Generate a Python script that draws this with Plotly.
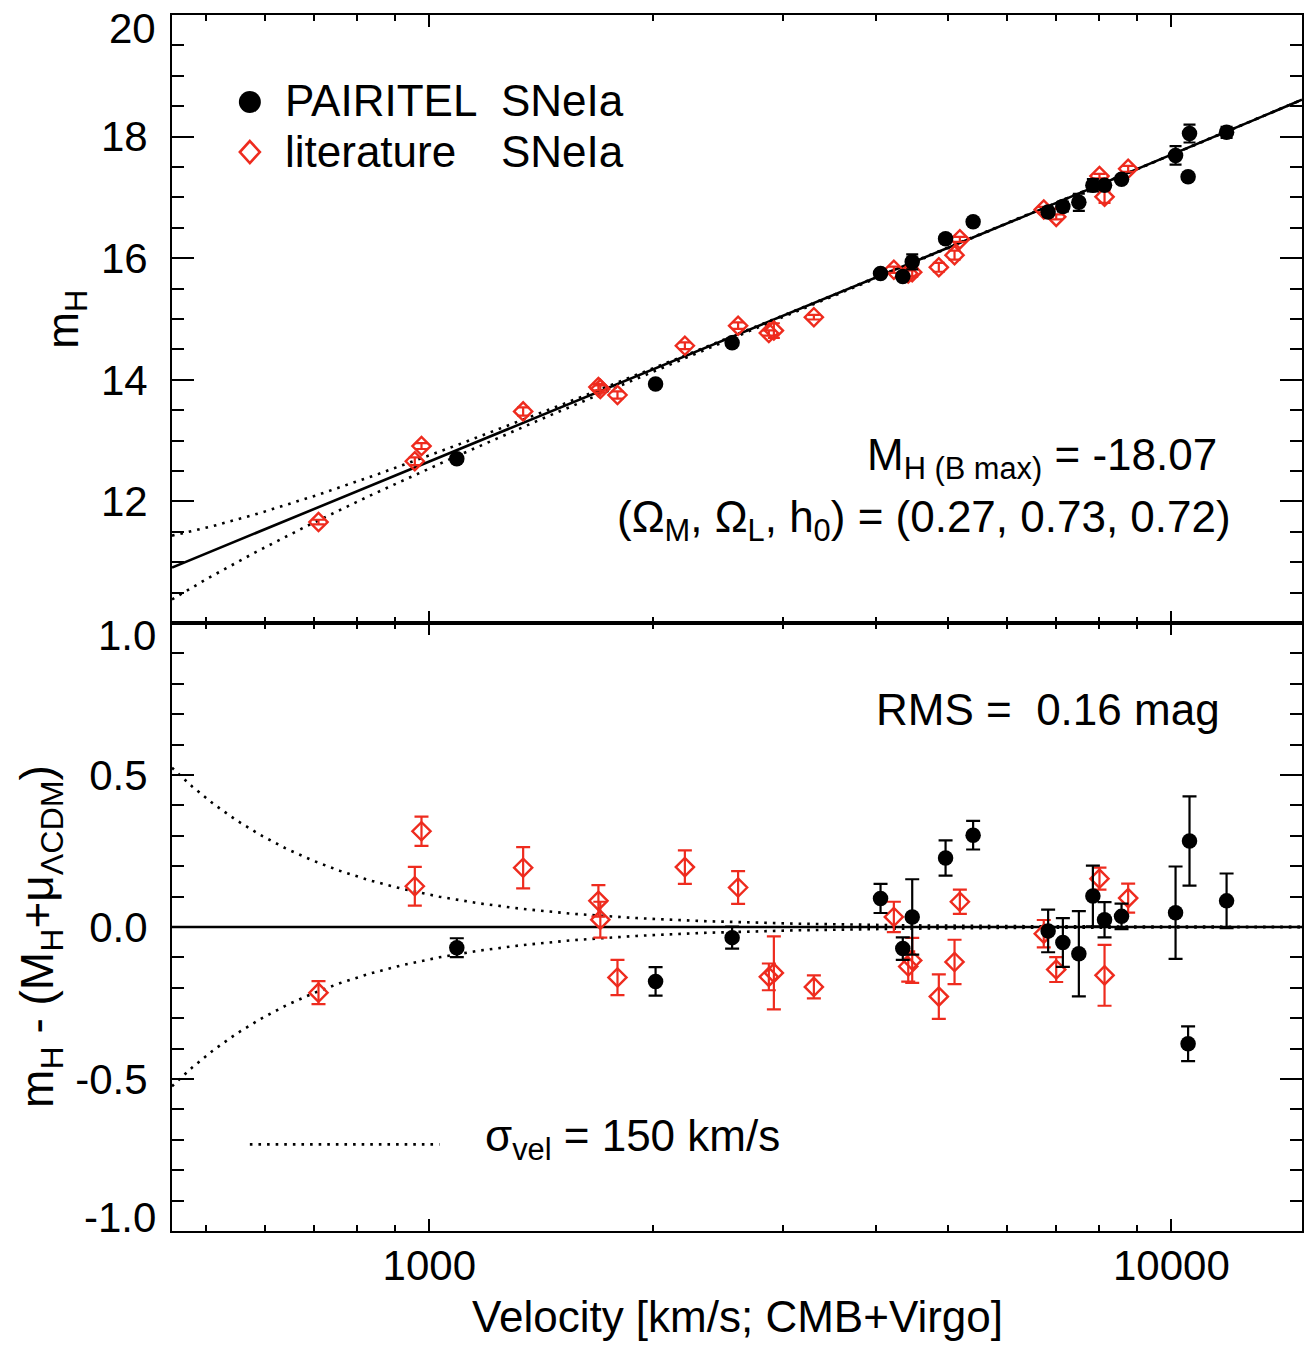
import numpy as np
import plotly.graph_objects as go
from plotly.subplots import make_subplots

# ---- PAIRITEL SNe Ia: CMB+Virgo velocity, peak H mag, Hubble residual, error
pt_vel = [1089, 2018, 2559, 4056, 4346, 4475, 4963, 5406, 6823, 7142, 7505,
          7839, 8128, 8568, 10132, 10580, 10534, 11870]
pt_mag = [12.70, 13.93, 14.61, 15.75, 15.70, 15.94, 16.32, 16.60, 16.76, 16.85,
          16.92, 17.20, 17.20, 17.30, 17.69, 18.05, 17.34, 18.07]
pt_res = [-0.068, -0.179, -0.035, 0.094, -0.071, 0.033, 0.227, 0.302, -0.013,
          -0.051, -0.088, 0.102, 0.024, 0.035, 0.047, 0.283, -0.384, 0.086]
pt_err = [0.031, 0.047, 0.036, 0.048, 0.037, 0.124, 0.058, 0.047, 0.070, 0.080,
          0.140, 0.100, 0.058, 0.042, 0.152, 0.147, 0.057, 0.090]

# ---- literature SNe Ia
lit_vel = [709, 956, 976, 1338, 1690, 1700, 1793, 2210, 2607, 2868, 2913, 3298,
           4227, 4475, 4420, 4860, 5103, 5188, 6731, 6996, 8001, 8128, 8746]
lit_mag = [11.66, 12.66, 12.91, 13.48, 13.88, 13.85, 13.75, 14.56, 14.89, 14.77,
           14.81, 15.03, 15.81, 15.77, 15.75, 15.85, 16.05, 16.31, 16.80, 16.68,
           17.35, 17.01, 17.47]
lit_res = [-0.216, 0.134, 0.315, 0.195, 0.086, 0.024, -0.166, 0.197, 0.130,
           -0.164, -0.151, -0.197, 0.033, -0.110, -0.130, -0.229, -0.115, 0.083,
           -0.022, -0.140, 0.159, -0.159, 0.095]
lit_err = [0.038, 0.064, 0.048, 0.068, 0.052, 0.059, 0.058, 0.055, 0.054, 0.044,
           0.120, 0.038, 0.050, 0.074, 0.050, 0.073, 0.073, 0.040, 0.045, 0.041,
           0.036, 0.100, 0.048]

# ---- model parameters
M_H = -18.07
OMEGA_M, OMEGA_L, H0 = 0.27, 0.73, 72.0
SIGMA_VEL = 150.0
C_KMS = 299792.458
V_RANGE = (450.0, 15000.0)

x_ticks = [1000, 10000]
x_ticklabels = ["1000", "10000"]
x_minor = [500, 600, 700, 800, 900, 2000, 3000, 4000, 5000, 6000, 7000, 8000, 9000]

RED = "#ee2b1e"
FONT = "Liberation Sans, Arial, Helvetica, sans-serif"


def mu_lcdm(v):
    """Distance modulus in flat LCDM for recession velocities v (km/s)."""
    out = []
    for vi in np.atleast_1d(v):
        z = vi / C_KMS
        zz = np.linspace(0.0, z, 400)
        ez = np.sqrt(OMEGA_M * (1 + zz) ** 3 + OMEGA_L)
        dc = C_KMS / H0 * np.trapezoid(1.0 / ez, zz)
        out.append(5 * np.log10((1 + z) * dc) + 25)
    return np.array(out)


v_grid = np.geomspace(V_RANGE[0], V_RANGE[1], 500)
m_model = M_H + mu_lcdm(v_grid)
# magnitude envelope from the peculiar-velocity scatter
envelope = (5.0 / np.log(10) * SIGMA_VEL / v_grid) ** 2

fig = make_subplots(rows=2, cols=1, shared_xaxes=True, vertical_spacing=0)

dot_line = dict(color="black", width=2.6, dash="2.6px,6px")

# ---- upper panel: Hubble diagram
fig.add_trace(go.Scatter(x=v_grid, y=m_model + envelope, mode="lines",
                         line=dot_line, hoverinfo="skip"), row=1, col=1)
fig.add_trace(go.Scatter(x=v_grid, y=m_model - envelope, mode="lines",
                         line=dot_line, hoverinfo="skip"), row=1, col=1)
fig.add_trace(go.Scatter(x=v_grid, y=m_model, mode="lines",
                         line=dict(color="black", width=2.6)), row=1, col=1)

fig.add_trace(go.Scatter(
    x=lit_vel, y=lit_mag, mode="markers",
    error_y=dict(type="data", array=lit_err, color=RED, thickness=2.2, width=6),
    marker=dict(symbol="diamond-open", size=14, color=RED, line=dict(width=2.4, color=RED)),
), row=1, col=1)
fig.add_trace(go.Scatter(
    x=pt_vel, y=pt_mag, mode="markers",
    error_y=dict(type="data", array=pt_err, color="black", thickness=2.2, width=6),
    marker=dict(symbol="circle", size=15.5, color="black"),
), row=1, col=1)

# ---- lower panel: residuals
fig.add_trace(go.Scatter(x=v_grid, y=envelope, mode="lines",
                         line=dot_line, hoverinfo="skip"), row=2, col=1)
fig.add_trace(go.Scatter(x=v_grid, y=-envelope, mode="lines",
                         line=dot_line, hoverinfo="skip"), row=2, col=1)
fig.add_trace(go.Scatter(x=[V_RANGE[0], V_RANGE[1]], y=[0, 0], mode="lines",
                         line=dict(color="black", width=2.6)), row=2, col=1)

fig.add_trace(go.Scatter(
    x=lit_vel, y=lit_res, mode="markers",
    error_y=dict(type="data", array=lit_err, color=RED, thickness=2.2, width=7),
    marker=dict(symbol="diamond-open", size=14, color=RED, line=dict(width=2.4, color=RED)),
), row=2, col=1)
fig.add_trace(go.Scatter(
    x=pt_vel, y=pt_res, mode="markers",
    error_y=dict(type="data", array=pt_err, color="black", thickness=2.2, width=7),
    marker=dict(symbol="circle", size=15.5, color="black"),
), row=2, col=1)

axis_common = dict(showline=True, linecolor="black", linewidth=2, mirror="allticks",
                   ticks="inside", tickcolor="black", tickwidth=2,
                   showgrid=False, zeroline=False,
                   tickfont=dict(family=FONT, size=42, color="black"))

for r in (1, 2):
    fig.update_xaxes(type="log", range=[np.log10(V_RANGE[0]), np.log10(V_RANGE[1])],
                     tickvals=x_ticks, ticktext=x_ticklabels, ticklen=12,
                     minor=dict(tickvals=x_minor, ticks="inside", ticklen=6,
                                tickwidth=2, tickcolor="black", showgrid=False),
                     showticklabels=(r == 2), ticklabelstandoff=-3,
                     row=r, col=1, **axis_common)

fig.update_yaxes(range=[10, 20], tickvals=[12, 14, 16, 18],
                 ticktext=["12", "14", "16", "18"], ticklen=22,
                 minor=dict(tickvals=list(np.arange(10.5, 20, 0.5)), ticks="inside",
                            ticklen=12, tickwidth=2, tickcolor="black", showgrid=False),
                 ticklabelstandoff=14, row=1, col=1, **axis_common)
fig.update_yaxes(range=[-1, 1], tickvals=[-0.5, 0, 0.5],
                 ticktext=["-0.5", "0.0", "0.5"], ticklen=22,
                 minor=dict(tickvals=[round(t, 1) for t in np.arange(-0.9, 1.0, 0.1)],
                            ticks="inside", ticklen=12, tickwidth=2, tickcolor="black",
                            showgrid=False),
                 ticklabelstandoff=14, row=2, col=1, **axis_common)

txt = dict(family=FONT, size=44, color="black")
tick_txt = dict(family=FONT, size=42, color="black")
ann = []
# end-of-axis tick labels, nudged inside the panel edges
for val, lab, ref, dy in [(20, "20", "y", -13), (1.0, "1.0", "y2", -12), (-1.0, "-1.0", "y2", 14)]:
    ann.append(dict(x=0, xref="paper", y=val, yref=ref, text=lab, showarrow=False,
                    xanchor="right", yanchor="middle", xshift=-14, yshift=dy, font=tick_txt))

# axis titles
ann.append(dict(x=0.5, xref="paper", y=-0.0705, yref="paper", yanchor="middle",
                text="Velocity [km/s; CMB+Virgo]", showarrow=False,
                font=dict(family=FONT, size=44, color="black")))
ann.append(dict(x=-0.094, xref="paper", y=0.75, yref="paper", textangle=-90,
                text="m<sub>H</sub>", showarrow=False, font=txt,
                xanchor="center", yanchor="middle"))
ann.append(dict(x=-0.116, xref="paper", y=0.2426, yref="paper", textangle=-90,
                text="m<sub>H</sub> - (M<sub>H</sub>+μ<sub>ΛCDM</sub>)", showarrow=False,
                font=dict(family=FONT, size=46, color="black"),
                xanchor="center", yanchor="middle"))

# panel notes
ann.append(dict(x=0.613, xref="paper", y=0.636, yref="paper", xanchor="left", yanchor="middle",
                text="M<sub>H (B max)</sub> = -18.07", showarrow=False, font=txt))
ann.append(dict(x=0.392, xref="paper", y=0.585, yref="paper", xanchor="left", yanchor="middle",
                text="(Ω<sub>M</sub>, Ω<sub>L</sub>, h<sub>0</sub>) = (0.27, 0.73, 0.72)",
                showarrow=False, font=txt))
ann.append(dict(x=0.621, xref="paper", y=0.4285, yref="paper", xanchor="left", yanchor="middle",
                text="RMS =\u00a0 0.16 mag", showarrow=False, font=txt))
ann.append(dict(x=0.275, xref="paper", y=0.0755, yref="paper", xanchor="left", yanchor="middle",
                text="σ<sub>vel</sub> = 150 km/s", showarrow=False, font=txt))

# legend
ann.append(dict(x=0.098, xref="paper", y=0.9295, yref="paper", xanchor="left", yanchor="middle",
                text="PAIRITEL", showarrow=False, font=txt))
ann.append(dict(x=0.2895, xref="paper", y=0.9295, yref="paper", xanchor="left", yanchor="middle",
                text="SNeIa", showarrow=False, font=txt))
ann.append(dict(x=0.098, xref="paper", y=0.888, yref="paper", xanchor="left", yanchor="middle",
                text="literature", showarrow=False, font=txt))
ann.append(dict(x=0.2895, xref="paper", y=0.888, yref="paper", xanchor="left", yanchor="middle",
                text="SNeIa", showarrow=False, font=txt))

shapes = [
    dict(type="circle", xref="paper", yref="paper", xsizemode="pixel", ysizemode="pixel",
         xanchor=0.0689, yanchor=0.9285, x0=-11, x1=11, y0=-11, y1=11,
         fillcolor="black", line=dict(color="black", width=0)),
    dict(type="path", xref="paper", yref="paper", xsizemode="pixel", ysizemode="pixel",
         xanchor=0.0689, yanchor=0.8873, path="M0,11 L10,0 L0,-11 L-10,0 Z",
         fillcolor="rgba(0,0,0,0)", line=dict(color=RED, width=2.6)),
    dict(type="line", xref="paper", yref="y2", x0=0.0689, x1=0.2367, y0=-0.715, y1=-0.715,
         line=dict(color="black", width=2.6, dash="2.6px,6px")),
]

fig.update_layout(
    width=1315, height=1346,
    margin=dict(l=172, r=11, t=15, b=115),
    paper_bgcolor="white", plot_bgcolor="white",
    showlegend=False,
    annotations=ann, shapes=shapes,
    font=dict(family=FONT, color="black"),
)

fig.write_html("out.html")
